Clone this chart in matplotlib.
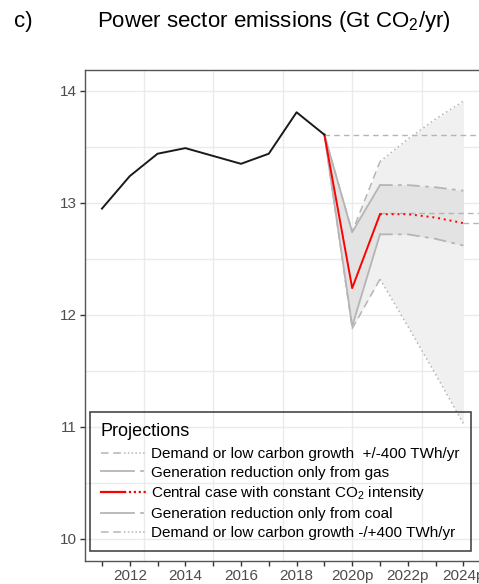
import matplotlib
matplotlib.use("Agg")
import matplotlib.pyplot as plt
from matplotlib.lines import Line2D
from matplotlib.legend_handler import HandlerTuple

plt.rcParams["font.family"] = ["Liberation Sans", "DejaVu Sans"]
plt.rcParams["mathtext.default"] = "regular"

# Historical power sector emissions (Gt CO2/yr)
hist_years = [2011, 2012, 2013, 2014, 2015, 2016, 2017, 2018, 2019]
hist_values = [12.95, 13.24, 13.44, 13.49, 13.42, 13.35, 13.44, 13.81, 13.61]

# Projection scenarios
proj_years = [2019, 2020, 2021, 2022, 2023, 2024]
central = [13.61, 12.24, 12.90, 12.90, 12.87, 12.82]
gas_only = [13.61, 12.74, 13.16, 13.16, 13.14, 13.11]
coal_only = [13.61, 11.90, 12.72, 12.72, 12.68, 12.62]
demand_high = [13.61, 12.74, 13.37, 13.57, 13.75, 13.91]
demand_low = [13.61, 11.88, 12.32, 11.90, 11.47, 11.03]

# Constant-level reference lines (start year, level)
ref_starts = [2019, 2021, 2024]
ref_levels = [13.61, 12.91, 12.82]
ref_end = 2025.5

tick_years = list(range(2011, 2025))
tick_labels = ["", "2012", "", "2014", "", "2016", "", "2018", "",
               "2020p", "", "2022p", "", "2024p"]
y_ticks = [10, 11, 12, 13, 14]

legend_labels = [
    "Demand or low carbon growth  +/-400 TWh/yr",
    "Generation reduction only from gas",
    "Central case with constant CO$_2$ intensity",
    "Generation reduction only from coal",
    "Demand or low carbon growth -/+400 TWh/yr",
]

W, H = 479, 584
fig = plt.figure(figsize=(W / 100, H / 100), dpi=100)
ax = fig.add_axes([85 / W, 1 - 561 / H, (509 - 85) / W, (561 - 70) / H])
ax.set_xlim(2010.39, 2025.64)
ax.set_ylim(10 - 22 / 112, 14 + 21 / 112)

grid_c = "#EBEBEB"
line_c = "#B5B5B5"

# background grid
for gx in [2012.5, 2015, 2017.5, 2020, 2022.5, 2025]:
    ax.axvline(gx, color=grid_c, lw=1.0, zorder=0)
for gy in [10, 10.5, 11, 11.5, 12, 12.5, 13, 13.5, 14]:
    ax.axhline(gy, color=grid_c, lw=1.0, zorder=0)

# ribbons
ax.fill_between(proj_years, demand_low, demand_high, color="#F0F0F0", lw=0, zorder=1)
ax.fill_between(proj_years, coal_only, gas_only, color="#E3E3E3", lw=0, zorder=1.1)

# reference levels
for s, lvl in zip(ref_starts, ref_levels):
    ax.plot([s, ref_end], [lvl, lvl], color=line_c, lw=1.0, ls=(0, (4, 3)), zorder=2)

# demand scenarios: dashed to 2021, dotted after
for series in (demand_high, demand_low):
    ax.plot(proj_years[:3], series[:3], color=line_c, lw=1.1, ls=(0, (5, 3)), zorder=2.2)
    ax.plot(proj_years[2:], series[2:], color=line_c, lw=1.1, ls=(0, (1, 2)), zorder=2.2)

# generation scenarios: solid to 2021, dash-dot after
for series in (gas_only, coal_only):
    ax.plot(proj_years[:3], series[:3], color=line_c, lw=1.3, zorder=2.4)
    ax.plot(proj_years[2:], series[2:], color=line_c, lw=1.3, ls=(0, (7, 3, 2, 3)), zorder=2.4)

# central case
ax.plot(proj_years[:3], central[:3], color="#FF0000", lw=1.4, zorder=3)
ax.plot(proj_years[2:], central[2:], color="#FF0000", lw=1.4, ls=(0, (1, 2)), zorder=3)

# history
ax.plot(hist_years, hist_values, color="#1A1A1A", lw=1.4, zorder=4)

# axes styling
ax.set_xticks(tick_years)
ax.set_xticklabels(tick_labels)
ax.set_yticks(y_ticks)
ax.tick_params(axis="both", colors="#333333", length=3.5, width=1.0,
               labelsize=11, labelcolor="#4D4D4D", pad=2.5)
for sp in ax.spines.values():
    sp.set_color("#555555")
    sp.set_linewidth(1.0)

# legend with split handles
def pair(c, ls1, ls2, lw=1.3):
    return (Line2D([], [], color=c, lw=lw, ls=ls1), Line2D([], [], color=c, lw=lw, ls=ls2))

handles = [
    pair(line_c, (0, (5, 3)), (0, (1, 1.5)), 1.1),
    pair(line_c, "-", (0, (6, 3, 2, 3))),
    pair("#FF0000", "-", (0, (1, 1.2)), 1.6),
    pair(line_c, "-", (0, (6, 3, 2, 3))),
    pair(line_c, (0, (5, 3)), (0, (1, 1.5)), 1.1),
]
leg = fig.legend(handles, legend_labels, loc="upper left",
                 bbox_to_anchor=(90 / W, 1 - 412 / H), borderaxespad=0,
                 handler_map={tuple: HandlerTuple(ndivide=None, pad=0)},
                 title="Projections", title_fontsize=13, fontsize=11,
                 handlelength=3.0, handletextpad=0.3, labelspacing=0.31,
                 borderpad=0.72, frameon=True, fancybox=False)
leg._legend_box.align = "left"
leg._legend_box.sep = 5
frame = leg.get_frame()
frame.set_facecolor("none")
frame.set_edgecolor("#1A1A1A")
frame.set_linewidth(1.2)

# panel title
fig.text(14 / W, 1 - 27 / H, "c)", fontsize=16, va="baseline", ha="left")
fig.text(97 / W, 1 - 27 / H, "Power sector emissions (Gt CO$_2$/yr)",
         fontsize=16, va="baseline", ha="left")

fig.savefig("out.png", dpi=100)
